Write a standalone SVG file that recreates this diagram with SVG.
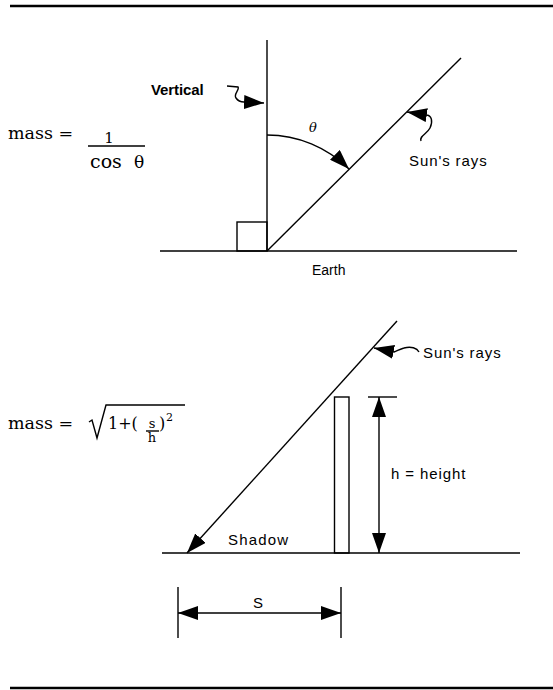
<svg xmlns="http://www.w3.org/2000/svg" width="553" height="690" viewBox="0 0 553 690">
<style>
.ln{stroke:#000;stroke-width:1.4;fill:none}
.rule{stroke:#000;stroke-width:2.6;fill:none}
.lbl{font-family:"Liberation Sans",Arial,sans-serif;font-size:15px;fill:#000;letter-spacing:0.9px}
.math{font-family:"DejaVu Serif","Liberation Serif",serif;fill:#000}
.arr{marker-end:url(#ah)}
</style>
<defs>
<marker id="ah" viewBox="0 0 20 14" refX="20" refY="7" markerWidth="20" markerHeight="14" markerUnits="userSpaceOnUse" orient="auto-start-reverse">
<path d="M0,0 L20,7 L0,14 z" fill="#000"/>
</marker>
</defs>
<rect width="553" height="690" fill="#fff"/>
<g id="rules">
<line class="rule" x1="10" y1="6" x2="553" y2="6"/>
<line class="rule" x1="10" y1="688" x2="553" y2="688"/>
</g>
<g id="formula-top">
<text class="math" x="8" y="139" font-size="17.5">mass =</text>
<text class="math" x="109" y="143" font-size="15" text-anchor="middle">1</text>
<line class="ln" x1="88" y1="146" x2="145" y2="146"/>
<text class="math" x="90" y="168" font-size="19">cos</text>
<text class="math" x="134" y="168" font-size="17">θ</text>
</g>
<g id="top-diagram">
<line class="ln" x1="267" y1="40" x2="267" y2="251" stroke-width="1.6"/>
<line class="ln" x1="160" y1="251" x2="517" y2="251"/>
<line class="ln" x1="267" y1="251" x2="461" y2="58"/>
<rect class="ln" x="237" y="222" width="30" height="29"/>
<text class="math" x="309" y="132" font-size="13" font-style="italic">θ</text>
<text class="lbl" x="151" y="95" style="font-weight:bold;letter-spacing:-0.1px">Vertical</text>
<text class="lbl" x="409" y="166">Sun's rays</text>
<text class="lbl" x="312" y="275" style="font-size:14px;letter-spacing:0">Earth</text>
</g>
<g id="formula-bottom">
<text class="math" x="8" y="429" font-size="17.5">mass =</text>
<path class="ln" d="M89,422 L92,420 L97,438 L106,405 L185,405"/>
<text class="math" x="108" y="429" font-size="16">1+(</text>
<text class="math" x="152" y="428" font-size="13" text-anchor="middle">s</text>
<line class="ln" x1="146" y1="431" x2="159" y2="431" stroke-width="1"/>
<text class="math" x="152" y="442" font-size="13" text-anchor="middle">h</text>
<text class="math" x="159" y="429" font-size="16">)</text>
<text class="math" x="166" y="421" font-size="11">2</text>
</g>
<g id="bottom-diagram">
<line class="ln" x1="162" y1="553" x2="520" y2="553"/>
<rect class="ln" x="334.5" y="397" width="14.5" height="156"/>
<line class="ln" x1="368" y1="397" x2="397" y2="397"/>
<text class="lbl" x="391" y="479">h = height</text>
<text class="lbl" x="228" y="545" style="letter-spacing:1.2px">Shadow</text>
<text class="lbl" x="423" y="358">Sun's rays</text>
<line class="ln" x1="178" y1="587" x2="178" y2="638" stroke-width="1.2"/>
<line class="ln" x1="341" y1="587" x2="341" y2="638" stroke-width="1.2"/>
<text class="lbl" x="258" y="608" text-anchor="middle" style="letter-spacing:0">S</text>
</g>
<g id="connectors">
<path class="ln arr" d="M227,86 L238,87 C240,90 233,94 236,98 C238,101 240,102 244,102 L264,103"/>
<path class="ln arr" d="M267,135 A116,116 0 0 1 349,169"/>
<path class="ln arr" d="M421,141 C419,136 427,134 430,128 C433,122 432,115 426,115 L407,112"/>
<path class="ln arr" d="M397,321 L187,553"/>
<path class="ln arr" d="M419,352 C417,348 411,346 404,348 C400,349 397,351 394,352 L374,348"/>
<path class="ln" d="M379,397 L379,553" marker-start="url(#ah)" marker-end="url(#ah)"/>
<path class="ln" d="M178,613 L341,613" marker-start="url(#ah)" marker-end="url(#ah)"/>
</g>
</svg>
